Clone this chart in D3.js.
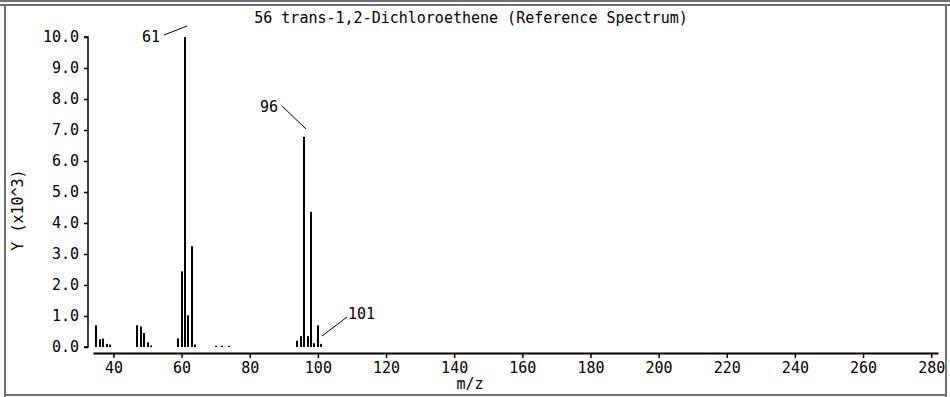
<!DOCTYPE html>
<html><head><meta charset="utf-8">
<script src="https://cdn.jsdelivr.net/npm/d3@7"></script>
<style>
html,body{margin:0;padding:0;background:#fff;}
svg{display:block;}
text{font-family:"DejaVu Sans Mono","Liberation Mono",monospace;font-size:15px;fill:#000;}
</style></head>
<body><svg id="c" width="950" height="397"></svg>
<script>
const title = "56 trans-1,2-Dichloroethene (Reference Spectrum)";
const xLabel = "m/z";
const yLabel = "Y (x10^3)";
const mz = [35,36,37,38,39, 47,48,49,50,51, 59,60,61,62,63,64, 70,72,74, 94,95,96,97,98,99,100,101];
const intensity = [0.70,0.25,0.27,0.10,0.08, 0.70,0.66,0.45,0.15,0.05, 0.28,2.44,10.0,1.02,3.25,0.08, 0.04,0.04,0.04, 0.20,0.35,6.78,0.35,4.36,0.12,0.70,0.10];
const xTicks = [40,60,80,100,120,140,160,180,200,220,240,260,280];
const yTicks = [0,1,2,3,4,5,6,7,8,9,10];
const peakLabels = [
  {mz:61, text:"61", tx:142, ty:37, lx1:164, ly1:35, lx2:187, ly2:26},
  {mz:96, text:"96", tx:260, ty:107, lx1:282, ly1:106, lx2:306, ly2:129},
  {mz:101, text:"101", tx:348, ty:314, lx1:347, ly1:317, lx2:322, ly2:336}
];

const svg = d3.select("#c");
// frame
const fg = svg.append("g").attr("stroke","#707070").attr("fill","none");
fg.append("line").attr("x1",0).attr("x2",950).attr("y1",1).attr("y2",1).attr("stroke-width",2);
fg.append("line").attr("x1",0).attr("x2",950).attr("y1",5).attr("y2",5).attr("stroke-width",2);
fg.append("line").attr("x1",5).attr("x2",5).attr("y1",5).attr("y2",397).attr("stroke-width",2);
fg.append("line").attr("x1",946).attr("x2",946).attr("y1",5).attr("y2",397).attr("stroke-width",2);
fg.append("line").attr("x1",5).attr("x2",946).attr("y1",395).attr("y2",395).attr("stroke-width",2);

const x = d3.scaleLinear().domain([34,282]).range([93,938]);
const y = d3.scaleLinear().domain([0,10]).range([347,37]);

// title
svg.append("text").attr("x",471).attr("y",23).attr("text-anchor","middle").text(title);

// y axis
const ya = svg.append("g").attr("transform","translate(88,0)")
  .call(d3.axisLeft(y).tickValues(yTicks).tickSize(4).tickPadding(5).tickFormat(d3.format(".1f")));
ya.select(".domain").attr("stroke","#000").attr("stroke-width",1.5);
ya.selectAll(".tick line").attr("stroke","#000").attr("stroke-width",1.5);
ya.selectAll(".tick text").style("font-family",'"DejaVu Sans Mono",monospace').style("font-size","15px").attr("fill","#000");
ya.select(".domain").attr("d","M-4,"+y(10)+"H0V"+y(0)+"H-4");

// x axis
const xa = svg.append("g").attr("transform","translate(0,353)")
  .call(d3.axisBottom(x).tickValues(xTicks).tickSize(5).tickPadding(4).tickSizeOuter(0));
xa.select(".domain").attr("stroke","#000").attr("stroke-width",2);
xa.selectAll(".tick line").attr("stroke","#000").attr("stroke-width",1.5);
xa.selectAll(".tick text").style("font-family",'"DejaVu Sans Mono",monospace').style("font-size","15px").attr("fill","#000");

svg.append("text").attr("x",470).attr("y",389).attr("text-anchor","middle").text(xLabel);
svg.append("text").attr("transform","translate(23,210) rotate(-90)").attr("text-anchor","middle").text(yLabel);

// bars
svg.append("g").selectAll("rect").data(mz).join("rect")
  .attr("x",(d)=>Math.round(x(d))-1).attr("width",2)
  .attr("y",(d,i)=>y(intensity[i])).attr("height",(d,i)=>y(0)-y(intensity[i]))
  .attr("fill","#000");

// peak labels
const pl = svg.append("g");
peakLabels.forEach(p=>{
  pl.append("text").attr("x",p.tx).attr("y",p.ty+5).text(p.text);
  pl.append("line").attr("x1",p.lx1).attr("y1",p.ly1).attr("x2",p.lx2).attr("y2",p.ly2).attr("stroke","#000").attr("stroke-width",1);
});
</script></body></html>
